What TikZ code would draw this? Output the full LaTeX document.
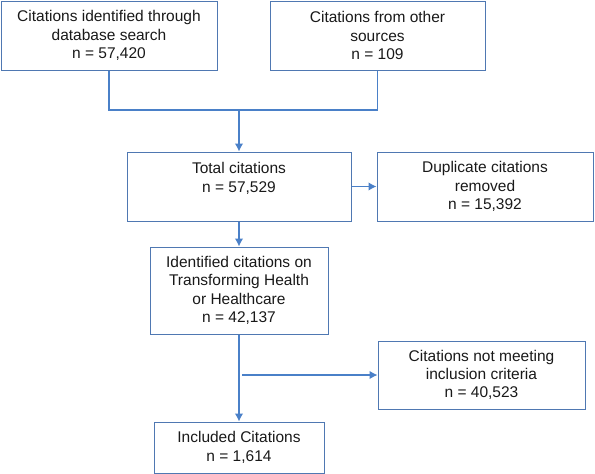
\documentclass[tikz,border=0pt]{standalone}
\usepackage{fontspec}
\setmainfont{Liberation Sans}
\usetikzlibrary{shapes,arrows.meta,positioning}
\definecolor{boxblue}{RGB}{79,120,178}
\definecolor{lineblue}{RGB}{74,128,200}
\tikzstyle{block} = [rectangle, draw=boxblue, line width=1pt, text centered, align=center,
inner sep=0pt, minimum height=69pt, minimum width=216pt, text=black!90,
font=\fontsize{15.5}{18.3}\selectfont]
\tikzstyle{line} = [draw=lineblue, line width=1.2pt, -{Latex[length=8pt,width=8.5pt]}]
\tikzstyle{wire} = [draw=lineblue, line width=1.2pt]

\begin{document}
\begin{tikzpicture}
			\useasboundingbox (0,0) rectangle (595pt,-474pt);
			\node [block] (search) at (109pt,-35.5pt) {Citations identified through\\database search\\n = 57,420};
			\node [block, right of=search, node distance=268.5pt, minimum width=215pt] (other) {Citations from other\\sources\\n = 109};
			\node [block, minimum width=224pt] (total) at (239pt,-186.5pt) {Total citations\\n = 57,529\\\mbox{}};
			\node [block, right of=total, node distance=246pt] (dup) {Duplicate citations\\removed\\n = 15,392};
			\node [block, below of=total, node distance=104pt, minimum width=178pt, minimum height=87pt] (ident) {Identified citations on\\Transforming Health\\or Healthcare\\n = 42,137};
			\node [block, below of=ident, node distance=157pt, minimum width=170pt, minimum height=51pt] (incl) {Included Citations\\n = 1,614};
			\node [block, minimum width=207pt, minimum height=68pt] (excl) at (481.5pt,-375pt) {Citations not meeting\\inclusion criteria\\n = 40,523};
			\coordinate [above of=total, node distance=76.5pt] (join);
			\coordinate (split) at ([xshift=3pt]ident.south |- excl.west);
			\path [wire] (search) |- (join) -| (other);
			\path [line] (join) -- (total);
			\path [line] (total) -- (dup);
			\path [line] (total) -- (ident);
			\path [line] (ident) -- (ident |- incl.north);
			\path [line] (split) -- (excl);
		\end{tikzpicture}
\end{document}
